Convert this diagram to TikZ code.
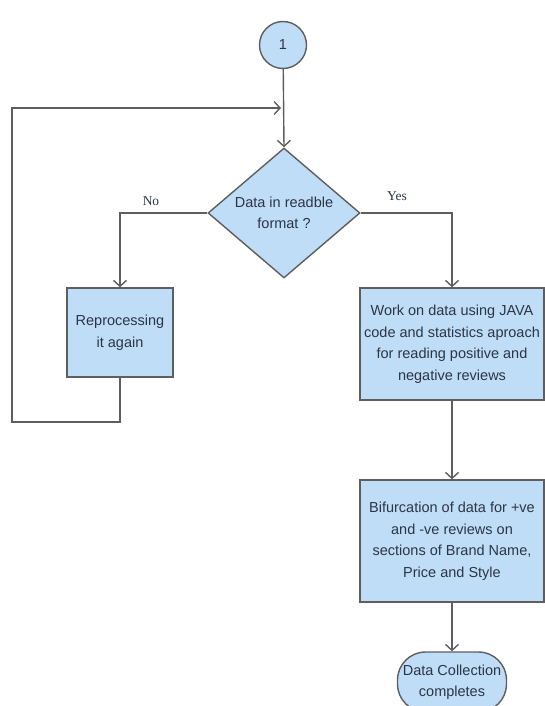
\documentclass[tikz,border=0pt]{standalone}
\usepackage{fontspec}
\setmainfont{Liberation Sans}
\newfontfamily\labelfont{Liberation Serif}
\usetikzlibrary{arrows.meta,shapes.geometric}
\definecolor{flowblue}{HTML}{BFDDF7}
\definecolor{flowgray}{HTML}{5E5E5E}
\definecolor{flowtext}{HTML}{2B3645}

\begin{document}
\begin{tikzpicture}[
  x=1pt, y=-1pt,
  every node/.style={text=flowtext,font=\fontsize{14.5}{21.5}\selectfont},
  box/.style={draw=flowgray,fill=flowblue,line width=1.4pt,align=center,
    minimum width=184pt,minimum height=112pt,inner sep=0pt},
  decision/.style={diamond,draw=flowgray,fill=flowblue,line width=1.4pt,
    align=center,inner sep=0pt,aspect=1.17,minimum width=152pt,minimum height=130pt},
  connector/.style={circle,draw=flowgray,fill=flowblue,line width=1.4pt,
    minimum size=47pt,inner sep=0pt},
  terminal/.style={draw=flowgray,fill=flowblue,line width=1.4pt,align=center,
    rounded corners=28pt,minimum width=109pt,minimum height=60pt,inner sep=0pt},
  branch/.style={font=\labelfont\fontsize{13.5}{15}\selectfont},
  arrow/.style={-{Straight Barb[length=6pt,width=13pt]},line width=1.4pt,draw=flowgray},
  line/.style={line width=1.4pt,draw=flowgray}
]
\clip (0,0) rectangle (545,706);

\node[connector] (start) at (283,45) {1};
\node[decision] (readable) at (284,213) {Data in readble\\format ?};
\node[box, minimum width=106pt, minimum height=89pt]
  (reprocess) at (120,332.5) {Reprocessing\\it again};
\node[box] (work) at (452,344) {Work on data using JAVA\\code and statistics aproach\\for reading positive and\\negative reviews};
\node[box, minimum height=122pt] (bifurcate) at (452,541) {Bifurcation of data for +ve\\and -ve reviews on\\sections of Brand Name,\\Price and Style};
\node[terminal] (done) at (452,682) {Data Collection\\completes};

\node[branch] (no) at (151,201) {No};
\node[branch] (yes) at (397,196) {Yes};

\coordinate (loopbottom) at (12,422);
\coordinate (looptop) at (12,108);
\coordinate (merge) at (281,108);

\draw[arrow] (start) -- (readable.north);
\draw[arrow] (readable.west) -| (reprocess.north);
\draw[arrow] (readable.east) -| (work.north);
\draw[arrow] (work) -- (bifurcate);
\draw[arrow] (bifurcate) -- (done);
\draw[arrow] (reprocess.south) |- (loopbottom) -- (looptop) -- (merge);
\end{tikzpicture}
\end{document}
